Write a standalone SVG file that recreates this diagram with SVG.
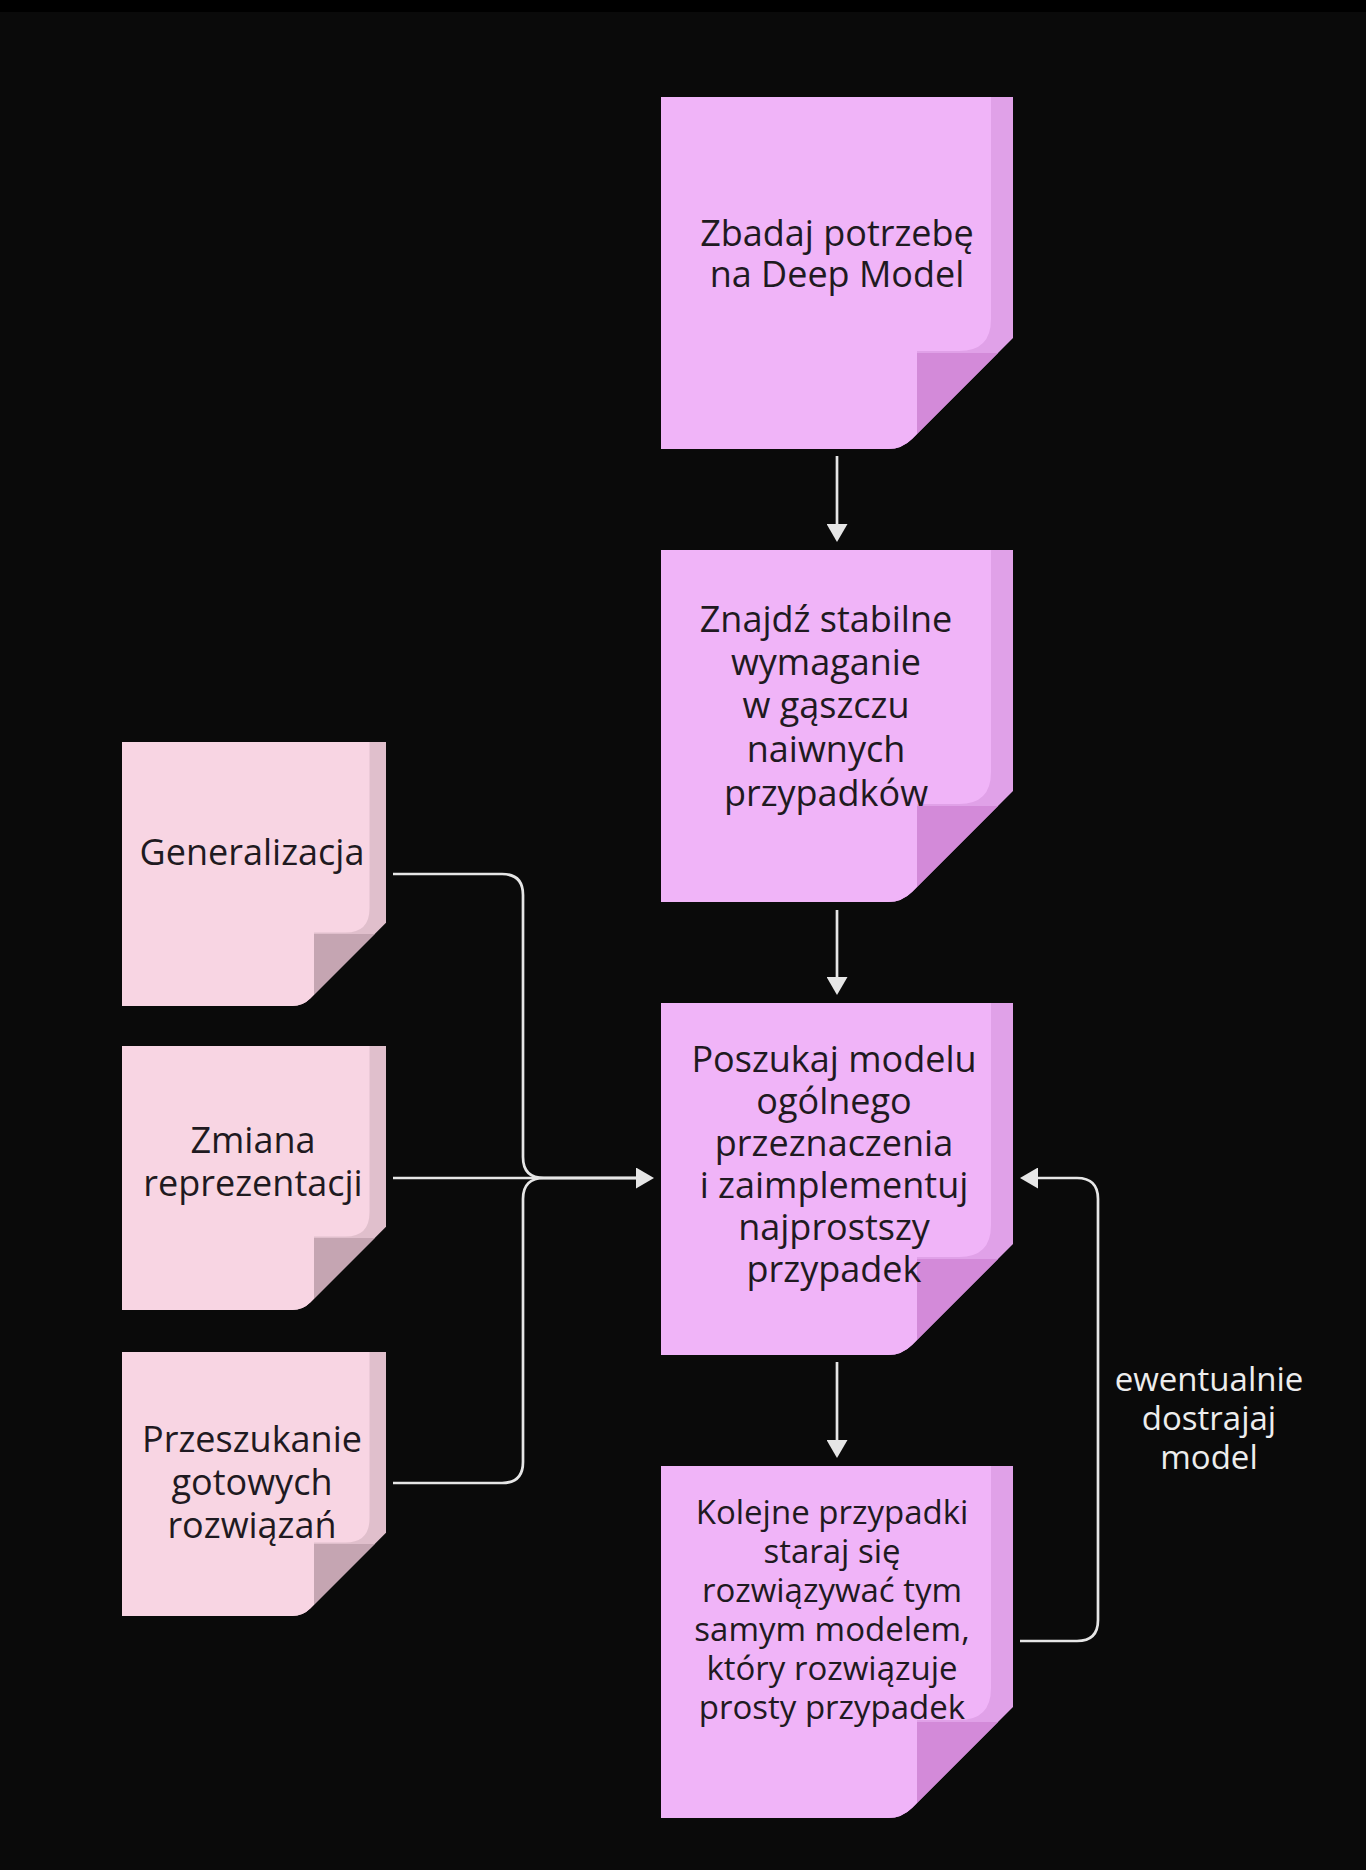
<svg xmlns="http://www.w3.org/2000/svg" width="1366" height="1870" viewBox="0 0 1366 1870">
<defs>
<style>
.bg{fill:#0a0a0a}
.bl{fill:#f0b4f8}.bs{fill:#e0a1e8}.bf{fill:#d38ad9}
.sl{fill:#f8d5e3}.ss{fill:#e0bfcc}.sf{fill:#c5a5b2}
.t{font-family:"Open Sans","Noto Sans","DejaVu Sans",sans-serif;font-size:36px;fill:#1f1a21;text-anchor:middle}
.t4{font-size:33px}
.lbl{font-family:"Open Sans","Noto Sans","DejaVu Sans",sans-serif;font-size:33px;fill:#ededed;text-anchor:middle}
.c{fill:none;stroke:#e6e6e6;stroke-width:2.7}
</style>
<marker id="ah" viewBox="0 0 18 21" refX="1" refY="10.5" markerWidth="18" markerHeight="21" markerUnits="userSpaceOnUse" orient="auto">
<path d="M0,0 L18,10.5 L0,21 Z" fill="#e6e6e6"/>
</marker>
</defs>
<rect x="0" y="0" width="1366" height="1870" class="bg"/>
<rect x="0" y="0" width="1366" height="12" fill="#000"/>

<g id="note-zbadaj" transform="translate(661,97)">
<path class="bs" d="M0,0 H352 V241 L251,342 Q241,352 227,352 H0 Z"/>
<path class="bl" d="M0,0 H330 V222 Q330,254 298,254 H256 V337 L251,342 Q241,352 227,352 H0 Z"/>
<path class="bf" d="M256,256 H337 L256,337 Z"/>
<text class="t" x="176" y="149">Zbadaj potrzebę</text>
<text class="t" x="176" y="190">na Deep Model</text>
</g>

<g id="note-znajdz" transform="translate(661,550)">
<path class="bs" d="M0,0 H352 V241 L251,342 Q241,352 227,352 H0 Z"/>
<path class="bl" d="M0,0 H330 V222 Q330,254 298,254 H256 V337 L251,342 Q241,352 227,352 H0 Z"/>
<path class="bf" d="M256,256 H337 L256,337 Z"/>
<text class="t" x="165" y="82">Znajdź stabilne</text>
<text class="t" x="165" y="125">wymaganie</text>
<text class="t" x="165" y="168">w gąszczu</text>
<text class="t" x="165" y="212">naiwnych</text>
<text class="t" x="165" y="256">przypadków</text>
</g>

<g id="note-poszukaj" transform="translate(661,1003)">
<path class="bs" d="M0,0 H352 V241 L251,342 Q241,352 227,352 H0 Z"/>
<path class="bl" d="M0,0 H330 V222 Q330,254 298,254 H256 V337 L251,342 Q241,352 227,352 H0 Z"/>
<path class="bf" d="M256,256 H337 L256,337 Z"/>
<text class="t" x="173" y="69">Poszukaj modelu</text>
<text class="t" x="173" y="111">ogólnego</text>
<text class="t" x="173" y="153">przeznaczenia</text>
<text class="t" x="173" y="195">i zaimplementuj</text>
<text class="t" x="173" y="237">najprostszy</text>
<text class="t" x="173" y="279">przypadek</text>
</g>

<g id="note-kolejne" transform="translate(661,1466)">
<path class="bs" d="M0,0 H352 V241 L251,342 Q241,352 227,352 H0 Z"/>
<path class="bl" d="M0,0 H330 V222 Q330,254 298,254 H256 V337 L251,342 Q241,352 227,352 H0 Z"/>
<path class="bf" d="M256,256 H337 L256,337 Z"/>
<text class="t t4" x="171" y="58">Kolejne przypadki</text>
<text class="t t4" x="171" y="97">staraj się</text>
<text class="t t4" x="171" y="136">rozwiązywać tym</text>
<text class="t t4" x="171" y="175">samym modelem,</text>
<text class="t t4" x="171" y="214">który rozwiązuje</text>
<text class="t t4" x="171" y="253">prosty przypadek</text>
</g>

<g id="note-generalizacja" transform="translate(122,742)">
<g transform="scale(0.75)">
<path class="ss" d="M0,0 H352 V241 L251,342 Q241,352 227,352 H0 Z"/>
<path class="sl" d="M0,0 H330 V222 Q330,254 298,254 H256 V337 L251,342 Q241,352 227,352 H0 Z"/>
<path class="sf" d="M256,256 H337 L256,337 Z"/>
</g>
<text class="t" x="130" y="123">Generalizacja</text>
</g>

<g id="note-zmiana" transform="translate(122,1046)">
<g transform="scale(0.75)">
<path class="ss" d="M0,0 H352 V241 L251,342 Q241,352 227,352 H0 Z"/>
<path class="sl" d="M0,0 H330 V222 Q330,254 298,254 H256 V337 L251,342 Q241,352 227,352 H0 Z"/>
<path class="sf" d="M256,256 H337 L256,337 Z"/>
</g>
<text class="t" x="131" y="107">Zmiana</text>
<text class="t" x="131" y="150">reprezentacji</text>
</g>

<g id="note-przeszukanie" transform="translate(122,1352)">
<g transform="scale(0.75)">
<path class="ss" d="M0,0 H352 V241 L251,342 Q241,352 227,352 H0 Z"/>
<path class="sl" d="M0,0 H330 V222 Q330,254 298,254 H256 V337 L251,342 Q241,352 227,352 H0 Z"/>
<path class="sf" d="M256,256 H337 L256,337 Z"/>
</g>
<text class="t" x="130" y="100">Przeszukanie</text>
<text class="t" x="130" y="143">gotowych</text>
<text class="t" x="130" y="186">rozwiązań</text>
</g>

<g id="connectors">
<path class="c" d="M837,456 V525" marker-end="url(#ah)"/>
<path class="c" d="M837,910 V978" marker-end="url(#ah)"/>
<path class="c" d="M837,1362 V1441" marker-end="url(#ah)"/>
<path class="c" d="M393,874 H502 Q523,874 523,895 V1157 Q523,1178 544,1178 H637"/>
<path class="c" d="M393,1483 H502 Q523,1483 523,1462 V1199 Q523,1178 544,1178 H637"/>
<path class="c" d="M393,1178 H637" marker-end="url(#ah)"/>
<path class="c" d="M1020,1641 H1077 Q1098,1641 1098,1620 V1199 Q1098,1178 1077,1178 H1037" marker-end="url(#ah)"/>
</g>

<g id="label-ewentualnie">
<text class="lbl" x="1209" y="1391">ewentualnie</text>
<text class="lbl" x="1209" y="1430">dostrajaj</text>
<text class="lbl" x="1209" y="1469">model</text>
</g>
</svg>
